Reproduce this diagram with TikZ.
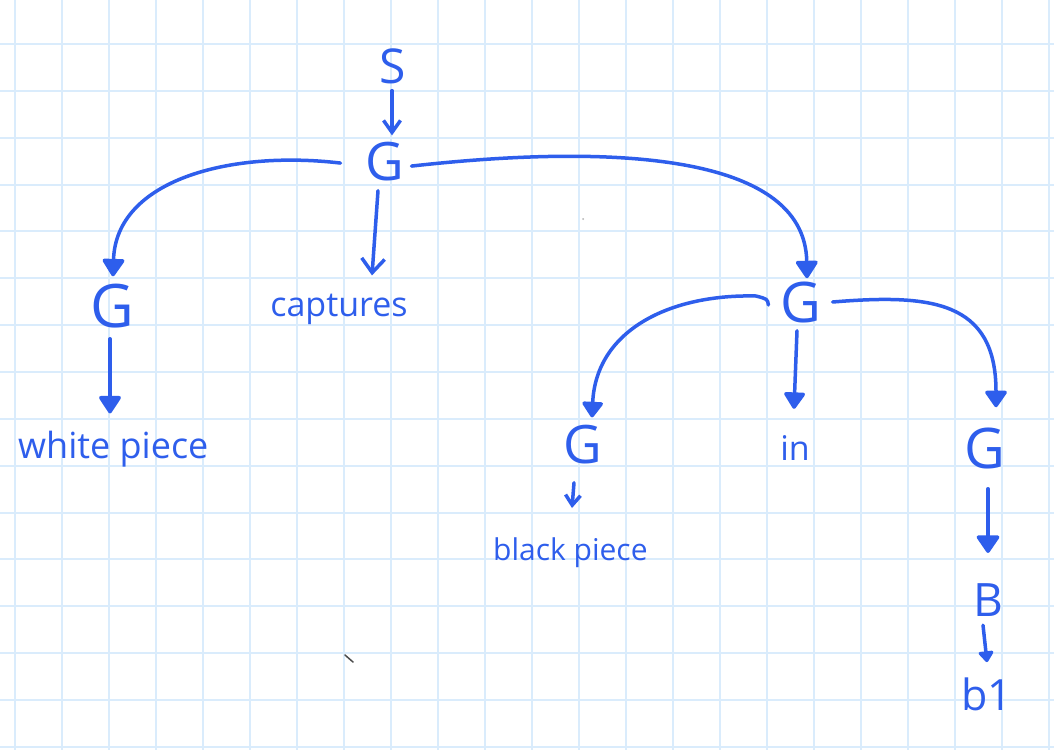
\documentclass[tikz,border=0pt]{standalone}
\usepackage{fontspec}
\setmainfont{Open Sans}
\usetikzlibrary{arrows.meta,calc}
\definecolor{ink}{RGB}{46,94,236}
\definecolor{gridc}{RGB}{218,236,252}
\begin{document}
\begin{tikzpicture}[x=1pt,y=-1pt,
  lbl/.style={text=ink, inner sep=0pt, anchor=base},
  fs/.style={font=\fontsize{#1}{#1}\selectfont},
  con/.style={draw=ink, line width=3.5pt, line cap=round, line join=round},
  fa/.style 2 args={con, -{Triangle[length=#1pt,width=#2pt,round]}},
  oa/.style 2 args={con, -{Straight Barb[length=#1pt,width=#2pt]}},
  gridline/.style={draw=gridc, line width=2pt}]
\useasboundingbox (0,0) rectangle (1054,750);
\fill[white] (0,0) rectangle (1054,750);
% grid paper
\foreach \i in {0,...,22} \draw[gridline] ({15+47*\i},0) -- ({15+47*\i},750);
\foreach \j in {0,...,15} \draw[gridline] (0,{44+46.85*\j}) -- (1054,{44+46.85*\j});
% stray marks
\draw[black!70, line width=1.5pt, line cap=round] (345,655) -- (353,662);
\fill[gray!60] (583,219) circle (1);
% nodes
\node[lbl, fs=48] (S) at (393,83) {S};
\node[lbl, fs=53] (G0) at (385,180) {G};
\node[lbl, fs=60] (G1) at (112,327) {G};
\node[lbl, fs=34] (cap) at (339,316) {captures};
\node[lbl, fs=56] (G2) at (801,322) {G};
\node[lbl, fs=36, anchor=base west] (wp) at (18,458) {white piece};
\node[lbl, fs=53] (G3) at (583,463) {G};
\node[lbl, fs=34] (in) at (795,460) {in};
\node[lbl, fs=56] (G4) at (985,468) {G};
\node[lbl, fs=30, anchor=base west] (bp) at (493,560) {black piece};
\node[lbl, fs=46] (B) at (988,616) {B};
\node[lbl, fs=43] (b1) at (987,710) {b1};
% connectors
\draw[oa={12}{17}] ($(S.south)+(-1,7)$) -- ($(G0.north)+(7,-6)$);
\draw[oa={14}{23}] ($(G0.south)+(-7,10)$) -- ($(cap.north)+(33,-18)$);
\draw[fa={19}{24}] ($(G0.west)+(-25,2)$) .. controls (230,150) and (116,180) .. ($(G1.north)+(1,-7)$);
\draw[fa={19}{24}] ($(G0.east)+(7,5)$) .. controls (600,145) and (805,150) .. ($(G2.north)+(6,-3)$);
\draw[fa={17}{23}] ($(G2.west)+(-12,3)$) .. controls +(-1,-6) .. (756,296) .. controls (670,294) and (596,330) .. ($(G3.north)+(9,-7)$);
\draw[fa={18}{23}] ($(G2.south)+(-4,8)$) -- ($(in.north)+(-1,-26)$);
\draw[fa={18}{24}] ($(G2.east)+(11,0)$) .. controls (930,294) and (996,300) .. ($(G4.north)+(11,-20)$);
\draw[fa={19}{24}] ($(G1.south)+(-2,11)$) -- ($(G1.south |- wp.north)+(-2,-17)$);
\draw[oa={10}{15}] ($(G3.south)+(-9,19)$) -- ($(G3.south |- bp.north)+(-11,-29)$);
\draw[fa={19}{25}] ($(G4.south)+(3,20)$) -- ($(B.north)+(0,-30)$);
\draw[fa={12}{17}] ($(B.south)+(-5,9)$) -- ($(b1.north)+(0,-15)$);
\end{tikzpicture}
\end{document}
